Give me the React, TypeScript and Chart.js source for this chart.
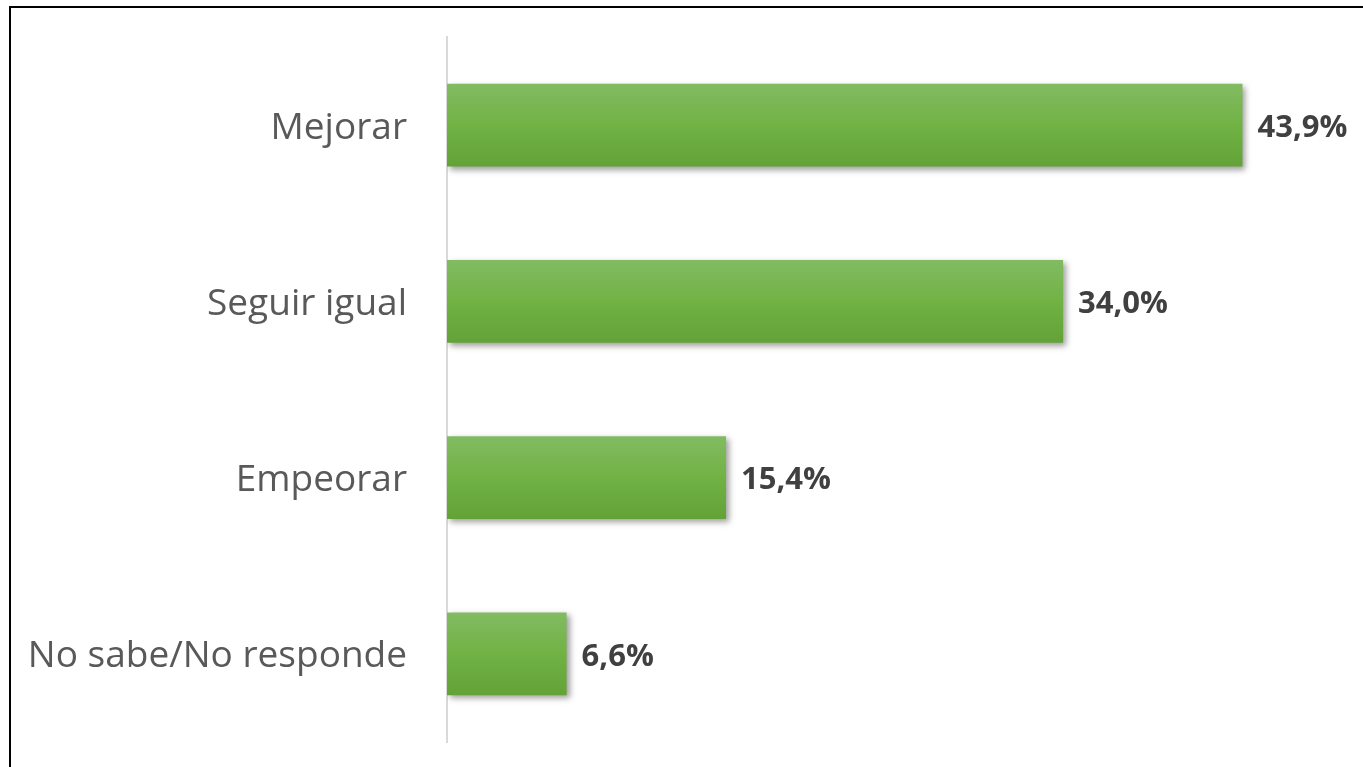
import React, { useEffect, useRef } from "react";
import { Chart, registerables } from "chart.js";

Chart.register(...registerables);

const categories = ["Mejorar", "Seguir igual", "Empeorar", "No sabe/No responde"];
const values = [43.9, 34.0, 15.4, 6.6];
const valueLabels = ["43,9%", "34,0%", "15,4%", "6,6%"];
const axisMax = 50;

const shadowPlugin = {
  id: "barShadow",
  beforeDatasetsDraw(chart: any) {
    const ctx = chart.ctx;
    ctx.save();
    ctx.shadowColor = "rgba(0,0,0,0.38)";
    ctx.shadowBlur = 6;
    ctx.shadowOffsetX = 3;
    ctx.shadowOffsetY = 3;
  },
  afterDatasetsDraw(chart: any) {
    chart.ctx.restore();
  },
};

const valueLabelPlugin = {
  id: "valueLabels",
  afterDraw(chart: any) {
    const ctx = chart.ctx;
    const meta = chart.getDatasetMeta(0);
    ctx.save();
    ctx.font = "bold 31px 'Open Sans'";
    ctx.fillStyle = "#404040";
    ctx.textAlign = "left";
    ctx.textBaseline = "middle";
    meta.data.forEach((bar: any, i: number) => {
      ctx.fillText(valueLabels[i], bar.x + 15, bar.y + 3);
    });
    ctx.restore();
  },
};

export default function App() {
  const canvasRef = useRef<HTMLCanvasElement>(null);

  useEffect(() => {
    if (!canvasRef.current) return;
    const chart = new Chart(canvasRef.current, {
      type: "bar",
      data: {
        labels: categories,
        datasets: [
          {
            data: values,
            barPercentage: 0.94,
            categoryPercentage: 0.5,
            borderWidth: 0,
            backgroundColor: (c: any) => {
              const ch = c.chart;
              const ys = ch.scales && ch.scales.y;
              if (!ch.chartArea || !ys) return "#70b244";
              const center = ys.getPixelForValue(c.dataIndex);
              const h = (ch.chartArea.height / categories.length) * 0.47;
              const g = ch.ctx.createLinearGradient(0, center - h / 2, 0, center + h / 2);
              g.addColorStop(0, "#82bb62");
              g.addColorStop(0.5, "#71b245");
              g.addColorStop(1, "#62a236");
              return g;
            },
          },
        ],
      },
      options: {
        indexAxis: "y",
        responsive: false,
        animation: false,
        maintainAspectRatio: false,
        layout: { padding: { left: 0, right: 10, top: 37, bottom: 25 } },
        plugins: { legend: { display: false }, tooltip: { enabled: false } },
        scales: {
          x: {
            display: false,
            min: 0,
            max: axisMax,
          },
          y: {
            afterFit: (s: any) => {
              s.width = 447;
              s.paddingTop = 0;
              s.paddingBottom = 0;
            },
            grid: { display: false, drawTicks: false },
            border: { display: true, color: "#d9d9d9", width: 2 },
            ticks: {
              padding: 40,
              labelOffset: 3,
              color: "#595959",
              font: { family: "'Open Sans'", size: 37 },
            },
          },
        },
      },
      plugins: [shadowPlugin, valueLabelPlugin],
    });
    return () => chart.destroy();
  }, []);

  return (
    <div style={{ position: "absolute", left: 0, top: 0, width: 1363, height: 767, background: "#fff", overflow: "hidden" }}>
      <div
        style={{
          position: "absolute",
          left: 9,
          top: 6,
          width: 1400,
          height: 800,
          borderLeft: "2px solid #000",
          borderTop: "2px solid #000",
          boxSizing: "border-box",
        }}
      />
      <canvas ref={canvasRef} width={1363} height={767} style={{ position: "absolute", left: 0, top: 0 }} />
    </div>
  );
}
